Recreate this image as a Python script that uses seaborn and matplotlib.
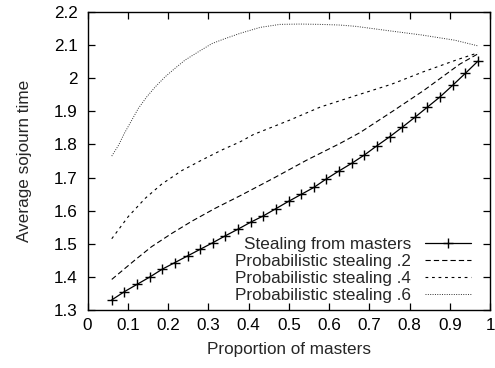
import numpy as np
import pandas as pd
import seaborn as sns
import matplotlib
matplotlib.use("Agg")
import matplotlib.pyplot as plt
from matplotlib.ticker import FormatStrFormatter

# stealing from masters (markers)
x_masters = np.linspace(0.06, 0.97, 30)
y_masters = [1.330, 1.355, 1.377, 1.399, 1.423, 1.443, 1.463, 1.483, 1.503, 1.524,
             1.544, 1.565, 1.584, 1.606, 1.628, 1.649, 1.670, 1.696, 1.720, 1.743,
             1.768, 1.796, 1.823, 1.852, 1.882, 1.913, 1.944, 1.979, 2.015, 2.052]

# probabilistic stealing .2
x_p2 = [0.06, 0.118, 0.159, 0.209, 0.259, 0.317, 0.379, 0.462, 0.545, 0.627,
        0.677, 0.760, 0.835, 0.925, 0.97]
y_p2 = [1.392, 1.451, 1.491, 1.531, 1.568, 1.607, 1.645, 1.698, 1.753, 1.803,
        1.836, 1.902, 1.963, 2.043, 2.074]

# probabilistic stealing .4
x_p4 = [0.06, 0.101, 0.143, 0.184, 0.234, 0.284, 0.333, 0.379, 0.412, 0.503,
        0.578, 0.667, 0.755, 0.835, 0.920, 0.97]
y_p4 = [1.515, 1.582, 1.637, 1.680, 1.721, 1.753, 1.783, 1.808, 1.830, 1.874,
        1.913, 1.948, 1.982, 2.020, 2.057, 2.077]

# probabilistic stealing .6
x_p6 = [0.06, 0.077, 0.091, 0.110, 0.126, 0.147, 0.168, 0.193, 0.217, 0.242,
        0.275, 0.309, 0.337, 0.379, 0.429, 0.478, 0.528, 0.578, 0.627, 0.667,
        0.747, 0.830, 0.913, 0.97]
y_p6 = [1.765, 1.798, 1.833, 1.874, 1.909, 1.944, 1.974, 2.005, 2.030, 2.055,
        2.080, 2.105, 2.118, 2.136, 2.154, 2.163, 2.164, 2.163, 2.161, 2.157,
        2.144, 2.131, 2.115, 2.098]

labels = ['Stealing from masters', 'Probabilistic stealing .2',
          'Probabilistic stealing .4', 'Probabilistic stealing .6']

sns.set_style('ticks')
plt.rcParams['font.family'] = ['Liberation Sans', 'DejaVu Sans']
plt.rcParams['font.size'] = 12.3
plt.rcParams['lines.scale_dashes'] = False

fig = plt.figure(figsize=(4.95, 3.68), dpi=100)
ax = fig.add_axes([0.177, 0.158, 0.813, 0.809])

sns.lineplot(x=x_masters, y=y_masters, ax=ax, color='black', linewidth=0.9,
             linestyle='-', marker='+', markersize=6.5, markeredgewidth=1.0,
             markeredgecolor='black', label=labels[0])
sns.lineplot(x=x_p2, y=y_p2, ax=ax, color='black', linewidth=0.8,
             linestyle=(0, (3.8, 2.2)), label=labels[1])
sns.lineplot(x=x_p4, y=y_p4, ax=ax, color='black', linewidth=0.8,
             linestyle=(0, (2.0, 2.7)), label=labels[2])
sns.lineplot(x=x_p6, y=y_p6, ax=ax, color='#333333', linewidth=0.7,
             linestyle=(0, (0.7, 1.0)), label=labels[3])

ax.set_xlim(0, 1)
ax.set_ylim(1.3, 2.2)
ax.set_xticks(np.arange(0, 1.01, 0.1))
ax.set_yticks(np.arange(1.3, 2.201, 0.1))
ax.xaxis.set_major_formatter(FormatStrFormatter('%g'))
ax.yaxis.set_major_formatter(FormatStrFormatter('%g'))
ax.tick_params(direction='in', top=True, right=True, length=5, width=0.9,
               labelsize=12.3, colors='black')
ax.tick_params(axis='x', pad=6)
ax.tick_params(axis='y', pad=7)
for s in ax.spines.values():
    s.set_linewidth(1.0)
    s.set_color('black')

ax.set_xlabel('Proportion of masters', fontsize=12.3, labelpad=6)
ax.set_ylabel('Average sojourn time', fontsize=12.3, labelpad=16)

leg = ax.legend(loc='lower right', bbox_to_anchor=(0.97, 0.0), frameon=False,
                markerfirst=False, handlelength=2.7, handletextpad=0.8,
                labelspacing=0.12, borderaxespad=0.0, fontsize=12.3)

fig.savefig('out.png', dpi=100)
